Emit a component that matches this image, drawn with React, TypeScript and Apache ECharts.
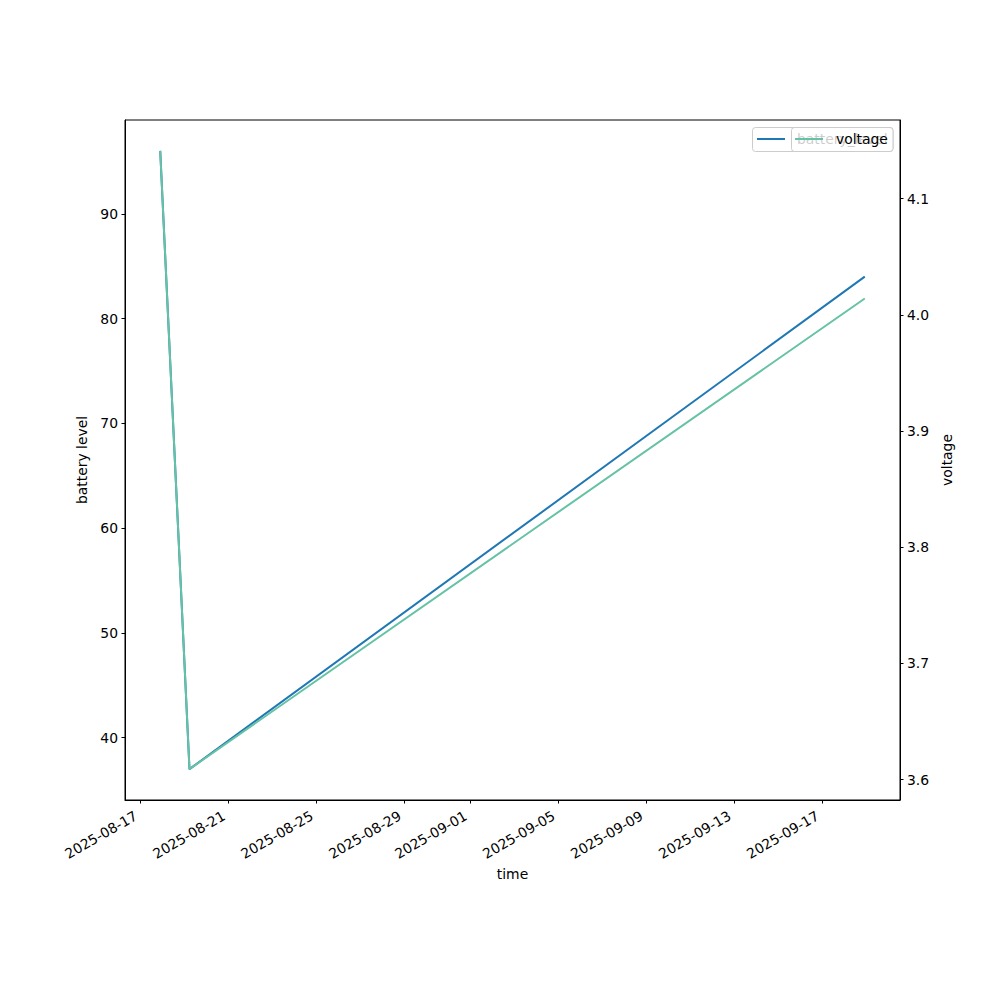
import React, { useEffect, useRef } from "react";
import * as echarts from "echarts";

// sample times (UTC)
const times = [
  Date.UTC(2025, 7, 17, 21, 49),
  Date.UTC(2025, 7, 19, 5, 45),
  Date.UTC(2025, 8, 18, 22, 48),
];
const batteryLevel = [96, 37, 84];
const voltage = [4.141, 3.609, 4.014];

const xTickDates = [
  Date.UTC(2025, 7, 17),
  Date.UTC(2025, 7, 21),
  Date.UTC(2025, 7, 25),
  Date.UTC(2025, 7, 29),
  Date.UTC(2025, 8, 1),
  Date.UTC(2025, 8, 5),
  Date.UTC(2025, 8, 9),
  Date.UTC(2025, 8, 13),
  Date.UTC(2025, 8, 17),
];
const leftTicks = [40, 50, 60, 70, 80, 90];
const rightTicks = [3.6, 3.7, 3.8, 3.9, 4.0, 4.1];

const FONT = "DejaVu Sans";
const FS = 13.9;

function pad(n: number) {
  return n < 10 ? "0" + n : "" + n;
}
function fmtDate(v: number) {
  const d = new Date(v);
  return d.getUTCFullYear() + "-" + pad(d.getUTCMonth() + 1) + "-" + pad(d.getUTCDate());
}

export default function App() {
  const ref = useRef<HTMLDivElement>(null);
  useEffect(() => {
    if (!ref.current) return;
    const chart = echarts.init(ref.current, null, { renderer: "svg" });
    const tMin = Math.min(...times);
    const tMax = Math.max(...times);
    const span = tMax - tMin;
    const bMin = Math.min(...batteryLevel), bMax = Math.max(...batteryLevel);
    const vMin = Math.min(...voltage), vMax = Math.max(...voltage);
    const axisCommon = {
      axisLine: { show: true, lineStyle: { color: "#000", width: 1 } },
      splitLine: { show: false },
      nameTextStyle: { color: "#000", fontFamily: FONT, fontSize: FS },
    };
    chart.setOption({
      animation: false,
      backgroundColor: "#fff",
      grid: {
        left: 125,
        right: 100,
        top: 120,
        bottom: 200,
        containLabel: false,
        outerBoundsMode: "none",
        show: true,
        borderColor: "#000",
        borderWidth: 1,
        backgroundColor: "transparent",
      },
      xAxis: {
        type: "value",
        min: tMin - span * 0.05,
        max: tMax + span * 0.05,
        name: "time",
        nameLocation: "middle",
        nameGap: 66,
        ...axisCommon,
        axisTick: {
          show: true,
          inside: false,
          length: 3.5,
          lineStyle: { color: "#000" },
          customValues: xTickDates,
        },
        axisLabel: {
          show: true,
          rotate: 30,
          margin: 12,
          padding: [0, 5, 0, 0],
          color: "#000",
          fontFamily: FONT,
          fontSize: FS,
          customValues: xTickDates,
          formatter: (v: number) => fmtDate(v),
        },
      },
      yAxis: [
        {
          type: "value",
          position: "left",
          min: bMin - (bMax - bMin) * 0.05,
          max: bMax + (bMax - bMin) * 0.05,
          name: "battery level",
          nameLocation: "middle",
          nameGap: 34,
          ...axisCommon,
          axisTick: {
            show: true,
            inside: false,
            length: 3.5,
            lineStyle: { color: "#000" },
            customValues: leftTicks,
          },
          axisLabel: {
            show: true,
            margin: 7,
            color: "#000",
            fontFamily: FONT,
            fontSize: FS,
            customValues: leftTicks,
            formatter: (v: number) => String(Math.round(v)),
          },
        },
        {
          type: "value",
          position: "right",
          min: vMin - (vMax - vMin) * 0.05,
          max: vMax + (vMax - vMin) * 0.05,
          name: "voltage",
          nameLocation: "middle",
          nameGap: 37,
          ...axisCommon,
          axisTick: {
            show: true,
            inside: false,
            length: 3.5,
            lineStyle: { color: "#000" },
            customValues: rightTicks,
          },
          axisLabel: {
            show: true,
            margin: 7,
            color: "#000",
            fontFamily: FONT,
            fontSize: FS,
            customValues: rightTicks,
            formatter: (v: number) => v.toFixed(1),
          },
        },
      ],
      series: [
        {
          name: "battery_level",
          type: "line",
          yAxisIndex: 0,
          showSymbol: false,
          symbol: "none",
          lineStyle: { color: "#1f77b4", width: 2 },
          data: times.map((t, i) => [t, batteryLevel[i]]),
          z: 2,
        },
        {
          name: "voltage",
          type: "line",
          yAxisIndex: 1,
          showSymbol: false,
          symbol: "none",
          lineStyle: { color: "#66c2a5", width: 2 },
          data: times.map((t, i) => [t, voltage[i]]),
          z: 3,
        },
      ],
      graphic: [
        {
          type: "rect",
          shape: { x: 752.5, y: 127.5, width: 140.5, height: 24, r: 3 },
          style: { fill: "rgba(255,255,255,0.8)", stroke: "#cccccc", lineWidth: 1 },
          z: 100,
        },
        {
          type: "line",
          shape: { x1: 757, y1: 139, x2: 785, y2: 139 },
          style: { stroke: "#1f77b4", lineWidth: 2 },
          z: 101,
        },
        {
          type: "text",
          x: 797,
          y: 139,
          style: {
            text: "battery_level",
            fill: "#000",
            font: `${FS}px "${FONT}"`,
            verticalAlign: "middle",
          },
          z: 101,
        },
        {
          type: "rect",
          shape: { x: 791.5, y: 127.5, width: 101.5, height: 24, r: 3 },
          style: { fill: "rgba(255,255,255,0.8)", stroke: "#cccccc", lineWidth: 1 },
          z: 102,
        },
        {
          type: "line",
          shape: { x1: 795, y1: 139, x2: 823, y2: 139 },
          style: { stroke: "#66c2a5", lineWidth: 2 },
          z: 103,
        },
        {
          type: "text",
          x: 836,
          y: 139,
          style: {
            text: "voltage",
            fill: "#000",
            font: `${FS}px "${FONT}"`,
            verticalAlign: "middle",
          },
          z: 103,
        },
      ],
    });
    return () => chart.dispose();
  }, []);
  return (
    <div
      ref={ref}
      style={{ position: "fixed", left: 0, top: 0, width: 1000, height: 1000 }}
    />
  );
}
